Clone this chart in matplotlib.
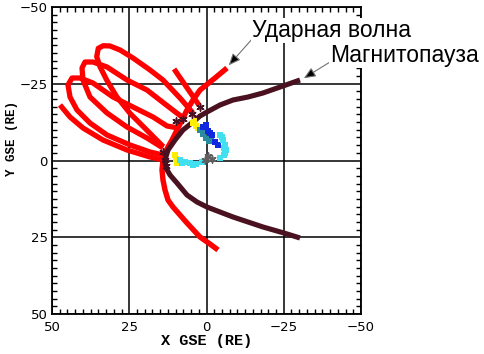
import numpy as np
import matplotlib.pyplot as plt
from matplotlib.ticker import MultipleLocator

# Ударная волна (X, Y GSE, RE)
shock_x = [-6.63, -2.75, 2.10, 4.37, 6.31, 7.93, 9.55, 11.17, 12.46, 13.43, 14.08, 14.40,
           14.08, 13.43, 12.46, 10.84, 8.58, 6.31, 2.10, -1.13, -3.72]
shock_y = [-30.13, -26.87, -22.96, -19.71, -16.45, -13.19, -9.93, -6.68, -4.40, -2.44, -0.16, 3.09,
           6.35, 9.61, 12.87, 15.15, 17.75, 20.36, 24.92, 27.20, 29.15]

# Магнитопауза
mp_x = [-30.26, -24.76, -18.28, -13.43, -8.58, -4.37, -0.16, 2.10, 4.37, 7.61, 10.19, 12.46,
        13.43, 13.11, 11.81, 9.55, 6.31, 3.07, -0.16, -4.37, -8.58, -18.28, -25.08, -30.26]
mp_y = [-26.22, -24.27, -21.99, -20.68, -19.71, -18.08, -15.80, -14.50, -12.54, -9.93, -6.68, -3.42,
        -0.16, 2.44, 4.72, 7.33, 11.24, 13.52, 15.15, 16.78, 18.40, 21.66, 23.62, 25.24]

# витки орбиты вне магнитосферы
orb1_x = [13.98, 19.35, 24.76, 29.06, 32.30, 34.47, 35.53, 35.02, 33.40, 31.23, 28.0,
          23.79, 18.28, 14.08, 8.58, 4.37]
orb1_y = [-4.50, -9.93, -15.37, -20.78, -26.22, -30.55, -33.81, -36.55, -37.39, -37.30, -36.0,
          -33.39, -29.48, -26.22, -20.36, -15.47]
orb2_x = [14.08, 19.26, 25.73, 32.20, 37.70, 39.97, 40.29, 39.32, 36.73, 32.20, 25.73,
          19.26, 13.43, 9.22, 6.96]
orb2_y = [-4.07, -7.33, -10.91, -15.47, -20.68, -26.22, -30.13, -32.08, -32.08, -30.46, -26.22,
          -22.96, -18.40, -15.15, -13.52]
orb3_x = [14.08, 18.28, 24.76, 32.20, 37.70, 41.91, 44.17, 44.82, 43.53, 40.94, 36.73,
          30.26, 23.79, 17.31, 12.78, 9.22]
orb3_y = [-1.79, -2.77, -5.05, -8.31, -12.21, -16.45, -20.68, -24.59, -26.87, -26.87, -25.24,
          -20.68, -17.43, -14.17, -11.24, -10.59]
orb4_x = [47.41, 44.17, 39.97, 33.50, 25.73, 18.28, 14.08]
orb4_y = [-18.08, -14.17, -10.59, -6.68, -3.42, -1.14, -0.16]
orb5_x = [10.5, 2.4]
orb5_y = [-29.8, -18.0]

# участки орбиты внутри магнитосферы
yel_x = [4.37, 3.40, 2.75, 10.19, 9.87, 9.55, 3.9]
yel_y = [-12.21, -11.24, -10.59, -1.79, -0.49, 0.81, -12.9]
teal_x = [2.10, 1.13, 0.16, -0.81, 0.6, -1.4]
teal_y = [-9.93, -8.63, -7.33, -6.35, -10.2, -7.4]
blue_x = [1.13, -0.49, -1.78, -2.75, -3.72, 0.2, -1.0]
blue_y = [-10.91, -9.61, -8.31, -6.03, -5.05, -11.6, -9.0]
cyan_x = [-4.37, -5.34, -5.99, -6.31, -5.66, -4.37, 8.58, 6.96, 5.34, 3.40, 1.46,
          -4.9, -5.8, -6.0, 7.8, 4.4]
cyan_y = [-8.31, -6.68, -5.05, -3.42, -1.79, -0.81, -0.16, 0.49, 0.81, 1.14, 0.49,
          -7.5, -4.2, -2.6, 0.9, 1.5]
gray_x = [-0.49, -1.78, 0.49]
gray_y = [-1.47, -0.49, -0.16]

# пересечения магнитопаузы
star_x = [9.87, 7.61, 4.70, 2.10, 14.08, 13.43, 13.10]
star_y = [-12.87, -13.52, -15.15, -17.43, -2.77, -0.16, 1.80]

red = '#ff0000'
brown = '#4a1220'

fig = plt.figure(figsize=(4.84, 3.54), dpi=100)
ax = fig.add_axes([52 / 484, 1 - 314 / 354, 309 / 484, 307 / 354])

for xs, ys in [(orb1_x, orb1_y), (orb2_x, orb2_y), (orb3_x, orb3_y),
               (orb4_x, orb4_y), (orb5_x, orb5_y)]:
    ax.plot(xs, ys, color=red, lw=3.8, solid_capstyle='butt',
            solid_joinstyle='round', zorder=3)
ax.plot(shock_x, shock_y, color=red, lw=3.9, solid_capstyle='butt',
        solid_joinstyle='round', zorder=4)
ax.plot(mp_x, mp_y, color=brown, lw=3.7, solid_capstyle='butt',
        solid_joinstyle='round', zorder=5)

ax.scatter(yel_x, yel_y, s=15, marker='s', color='#ffee00', lw=0, zorder=6)
ax.scatter(teal_x, teal_y, s=15, marker='s', color='#2a8aa0', lw=0, zorder=6)
ax.scatter(blue_x, blue_y, s=15, marker='s', color='#1028e0', lw=0, zorder=6)
ax.scatter(cyan_x, cyan_y, s=15, marker='s', color='#40e0f0', lw=0, zorder=6)
ax.scatter(gray_x, gray_y, s=26, marker=(6, 2, 0), color='#606060', lw=1.1, zorder=7)
ax.scatter(star_x, star_y, s=26, marker=(6, 2, 0), color=brown, lw=1.1, zorder=7)

ax.set_xlim(50, -50)
ax.set_ylim(50, -50)
ax.xaxis.set_major_locator(MultipleLocator(25))
ax.yaxis.set_major_locator(MultipleLocator(25))
ax.xaxis.set_minor_locator(MultipleLocator(2.5))
ax.yaxis.set_minor_locator(MultipleLocator(2.5))
ax.tick_params(which='both', direction='in', top=True, right=True,
               labelsize=9.5, width=1.0, color='black')
ax.tick_params(which='major', length=0, pad=5)
ax.tick_params(which='minor', length=3.5)
ax.tick_params(axis='y', which='major', pad=3)
ax.grid(True, which='major', color='black', lw=1.1, zorder=1)
for s in ax.spines.values():
    s.set_linewidth(1.3)

fig.text(207 / 484, 1 - 341 / 354, 'X GSE (RE)', ha='center', va='center',
         family='Liberation Mono', weight='bold', fontsize=11)
fig.text(12 / 484, 1 - 138 / 354, 'Y GSE (RE)', ha='center', va='center',
         rotation=90, family='Liberation Mono', weight='bold', fontsize=9)

arrow = dict(arrowstyle='-|>,head_length=0.7,head_width=0.3',
             fc='black', ec='0.45', lw=0.8, shrinkA=0, shrinkB=0)
ax.annotate('', xy=(-7.2, -31.0), xytext=(253 / 484, 1 - 38 / 354),
            textcoords='figure fraction', arrowprops=arrow,
            annotation_clip=False, zorder=8)
ax.annotate('', xy=(-31.5, -26.8), xytext=(330 / 484, 1 - 62 / 354),
            textcoords='figure fraction', arrowprops=arrow,
            annotation_clip=False, zorder=8)
fig.text(252 / 484, 1 - 37 / 354, 'Ударная волна', ha='left', va='baseline',
         family='Liberation Sans', fontsize=16.5,
         bbox=dict(fc='white', ec='none', pad=1))
fig.text(330 / 484, 1 - 62 / 354, 'Магнитопауза', ha='left', va='baseline',
         family='Liberation Sans', fontsize=16.5,
         bbox=dict(fc='white', ec='none', pad=1))

fig.savefig('out.png', dpi=100)
